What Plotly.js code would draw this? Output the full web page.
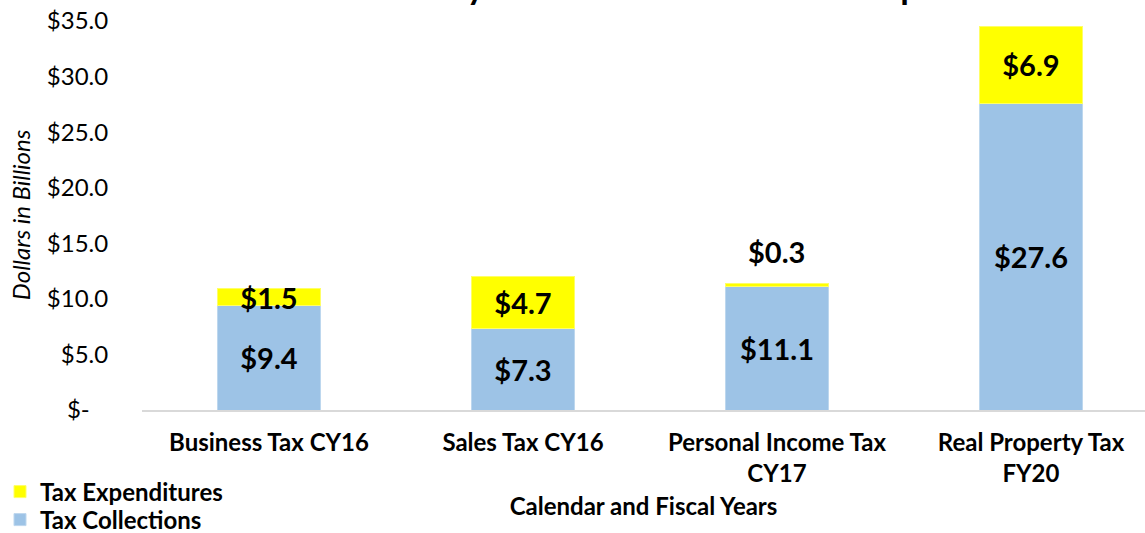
<!DOCTYPE html>
<html>
<head>
<meta charset="utf-8">
<script src="https://cdn.plot.ly/plotly-3.0.1.min.js"></script>
<style>html,body{margin:0;padding:0;background:#fff;}#chart{width:1145px;height:533px;}</style>
</head>
<body>
<div id="chart"></div>
<script>
const categories = ["Business Tax CY16", "Sales Tax CY16", "Personal Income Tax<br>CY17", "Real Property Tax<br>FY20"];
const taxCollections = [9.4, 7.3, 11.1, 27.6];
const taxExpenditures = [1.5, 4.7, 0.3, 6.9];
const yTickVals = [0, 5, 10, 15, 20, 25, 30, 35];
const yTickText = ["$-   ", "$5.0", "$10.0", "$15.0", "$20.0", "$25.0", "$30.0", "$35.0"];
const titleText = "New York City Tax Collections and Tax Expenditures";
const yTitleText = "Dollars in Billions";
const xTitleText = "Calendar and Fiscal Years";

const fmt = v => "$" + v.toFixed(1);
const FONT = "Lato, 'Open Sans', sans-serif";
const LABEL_FONT = {family: FONT, size: 29, color: "#000", weight: "bold"};
const LEGEND_FONT = {family: FONT, size: 24, color: "#000", weight: "bold"};
const isSmall = v => v < 1;

const traces = [
  {
    type: "bar", name: "Tax Collections", x: categories, y: taxCollections, legend: "legend2",
    text: taxCollections.map(fmt), textposition: "inside", insidetextanchor: "middle",
    constraintext: "none", cliponaxis: false, textfont: LABEL_FONT,
    marker: {color: "#9DC3E6", line: {color: "#BDD7EE", width: 1}},
    hoverinfo: "none"
  },
  {
    type: "bar", name: "Tax Expenditures", x: categories, y: taxExpenditures, legend: "legend",
    text: taxExpenditures.map(v => isSmall(v) ? "" : fmt(v)),
    textposition: "inside", insidetextanchor: "middle", constraintext: "none", cliponaxis: false,
    textfont: LABEL_FONT,
    marker: {color: "#FFFF00", line: {color: "#FFFF66", width: 1}},
    hoverinfo: "none"
  }
];

// small segments are labelled above the stack
const annotations = [];
taxExpenditures.forEach((v, i) => {
  if (isSmall(v)) {
    annotations.push({
      x: categories[i], y: taxCollections[i] + v, xref: "x", yref: "y",
      text: "<b>" + fmt(v) + "</b>", showarrow: false, yanchor: "bottom", yshift: 12,
      font: LABEL_FONT
    });
  }
});
// chart title (sits mostly above the visible area, as in the source image)
annotations.push({
  xref: "paper", yref: "paper", x: 0.521, y: 1.034, xanchor: "center", yanchor: "bottom",
  text: "<b>" + titleText + "</b>", showarrow: false,
  font: {family: FONT, size: 35, color: "#000"}
});
// y-axis title
annotations.push({
  xref: "paper", yref: "paper", x: -0.1216, y: 0.501, xanchor: "center", yanchor: "middle",
  text: "<i>" + yTitleText + "</i>", textangle: -90, showarrow: false,
  font: {family: FONT, size: 24, color: "#000"}
});

const legendBase = {
  xref: "container", yref: "container", x: 0.0, xanchor: "left", yanchor: "middle",
  orientation: "v", font: LEGEND_FONT, itemwidth: 30, bgcolor: "rgba(0,0,0,0)"
};

const layout = {
  width: 1145, height: 533,
  margin: {l: 142, r: 0, t: 21, b: 123, autoexpand: false},
  paper_bgcolor: "#fff", plot_bgcolor: "#fff",
  barmode: "stack", bargap: 0.595,
  font: {family: FONT, color: "#000"},
  annotations: annotations,
  xaxis: {
    type: "category", range: [-0.5, 3.449], showgrid: false, zeroline: false, automargin: true,
    showline: true, linecolor: "#D9D9D9", linewidth: 2, ticks: "",
    ticklabelstandoff: 10,
    tickfont: {family: FONT, size: 24, color: "#000", weight: "bold"},
    title: {text: "<b>" + xTitleText + "</b>", font: {family: FONT, size: 24, color: "#000"}, standoff: 12}
  },
  yaxis: {
    range: [0, 35], tickvals: yTickVals, ticktext: yTickText, automargin: true,
    showgrid: false, zeroline: false, showline: false,
    ticks: "outside", ticklen: 28, tickcolor: "rgba(0,0,0,0)",
    tickfont: {family: FONT, size: 24, color: "#000"}
  },
  legend: Object.assign({}, legendBase, {y: 1 - 492 / 533}),
  legend2: Object.assign({}, legendBase, {y: 1 - 520 / 533}),
  showlegend: true
};

Plotly.newPlot("chart", traces, layout, {displayModeBar: false, staticPlot: true});
</script>
</body>
</html>
